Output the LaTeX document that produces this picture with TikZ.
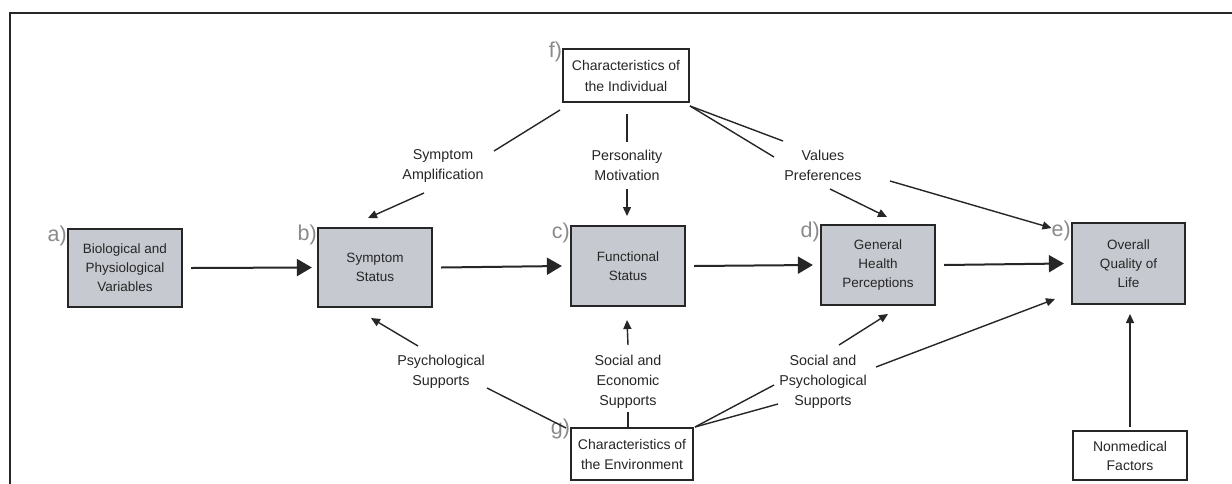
\documentclass[tikz,border=0pt]{standalone}
\usepackage{fontspec}
\setmainfont{Liberation Sans}
\usetikzlibrary{arrows.meta,calc}
\definecolor{boxfill}{HTML}{C6CAD0}
\definecolor{ink}{HTML}{262626}
\definecolor{lettergray}{HTML}{8A8A8A}
\tikzset{
  mainbox/.style={draw=ink, line width=2.2pt, fill=boxfill, inner sep=0pt,
    minimum width=114pt, minimum height=80pt, align=center, text=ink,
    font=\fontsize{13.5}{19}\selectfont},
  plainbox/.style={draw=ink, line width=1.5pt, fill=white, inner sep=0pt,
    align=center, text=ink, font=\fontsize{14}{21}\selectfont},
  lbl/.style={inner sep=0pt, align=center, text=ink, font=\fontsize{14.3}{20}\selectfont},
  letter/.style={inner sep=0pt, anchor=east, text=lettergray, font=\fontsize{21.5}{21.5}\selectfont},
  bigarrow/.style={draw=ink, line width=2pt, -{Triangle[length=15pt,width=17pt]}},
  thinarrow/.style={draw=ink, line width=1.4pt, -{Triangle[length=9pt,width=8pt]}},
  thinline/.style={draw=ink, line width=1.4pt},
}
\begin{document}
\begin{tikzpicture}[x=1pt,y=-1pt]
\useasboundingbox (0,0) rectangle (1232,483);
\fill[white] (0,0) rectangle (1232,483);
% frame
\draw[ink, line width=2pt] (10,490) -- (10,13) -- (1240,13);

% main boxes
\node[mainbox, minimum height=78pt] (a) at (125,268) {Biological and\\Physiological\\Variables};
\node[mainbox, minimum height=79pt] (b) at (375,267.5) {Symptom\\Status};
\node[mainbox] (c) at (628,266) {Functional\\Status};
\node[mainbox] (d) at (878,265) {General\\Health\\Perceptions};
\node[mainbox, minimum width=113pt, minimum height=81pt] (e) at (1128.5,263.5) {Overall\\Quality of\\Life};

% plain boxes
\node[plainbox, minimum width=126pt, minimum height=53pt] (f) at (626,75.5) {Characteristics of\\the Individual};
\node[plainbox, minimum width=122pt, minimum height=52pt, font=\fontsize{14}{20}\selectfont] (g) at (632,454) {Characteristics of\\the Environment};
\node[plainbox, minimum width=114pt, minimum height=49pt, font=\fontsize{14}{19}\selectfont] (nm) at (1130,455.5) {Nonmedical\\Factors};

% letters
\node[letter] (la) at ($(a.north west)+(0,8)$) {a)};
\node[letter] (lb) at ($(b.north west)+(0,8)$) {b)};
\node[letter] (lc) at ($(c.north west)+(0,8)$) {c)};
\node[letter] (ld) at ($(d.north west)+(0,8)$) {d)};
\node[letter] (le) at ($(e.north west)+(0,9)$) {e)};
\node[letter] (lf) at ($(f.north west)+(0,4)$) {f)};
\node[letter] (lg) at ($(g.north west)+(0,2)$) {g)};

% connector labels
\node[lbl] (SA) at (443,165.5) {Symptom\\Amplification};
\node[lbl] (PM) at (627,165.5) {Personality\\Motivation};
\node[lbl] (VP) at (823,165.5) {Values\\Preferences};
\node[lbl] (PS) at (441,371.5) {Psychological\\Supports};
\node[lbl] (SE) at (628,381.5) {Social and\\Economic\\Supports};
\node[lbl] (SPS) at (823,381.5) {Social and\\Psychological\\Supports};

% main chain
\draw[bigarrow] ($(a.east)+(8,0)$) -- ($(b.west)+(-5,0)$);
\draw[bigarrow] ($(b.east)+(8,0)$) -- ($(c.west)+(-8,0)$);
\draw[bigarrow] ($(c.east)+(8,0)$) -- ($(d.west)+(-7,0)$);
\draw[bigarrow] ($(d.east)+(8,0)$) -- ($(e.west)+(-7,0)$);

% from individual
\draw[thinline] ($(f)+(-66,34.5)$) -- ($(SA)+(51,-14.5)$);
\draw[thinarrow] ($(SA)+(-19,27.5)$) -- ($(b)+(-7,-49.5)$);
\draw[thinline] ($(f)+(1,38.5)$) -- ($(PM)+(0,-23.5)$);
\draw[thinarrow] ($(PM)+(0,23.5)$) -- ($(c)+(-1,-50)$);
\draw[thinline] ($(f)+(64,30.5)$) -- ($(VP)+(-40,-24.5)$);
\draw[thinline] ($(f)+(64,30.5)$) -- ($(VP)+(-49,-8.5)$);
\draw[thinarrow] ($(VP)+(7,23.5)$) -- ($(d)+(9,-48)$);
\draw[thinarrow] ($(VP)+(67,15.5)$) -- ($(e)+(-77,-35.5)$);

% from environment
\draw[thinarrow] ($(PS)+(-23,-25.5)$) -- ($(b)+(-4,50.5)$);
\draw[thinline] ($(g)+(-66,-26)$) -- ($(PS)+(46,16.5)$);
\draw[thinarrow] ($(SE)+(0,-36.5)$) -- ($(c)+(-1,54)$);
\draw[thinline] ($(g)+(-4,-26)$) -- ($(SE)+(0,30.5)$);
\draw[thinline] ($(g)+(63,-27)$) -- ($(SPS)+(-49,3.5)$);
\draw[thinline] ($(g)+(63,-27)$) -- ($(SPS)+(-45,22.5)$);
\draw[thinarrow] ($(SPS)+(16,-36.5)$) -- ($(d)+(10,49)$);
\draw[thinarrow] ($(SPS)+(53,-14.5)$) -- ($(e)+(-73.5,35.5)$);

% nonmedical
\draw[thinarrow] ($(nm)+(0,-28.5)$) -- ($(e)+(1.5,50.5)$);
\end{tikzpicture}
\end{document}
